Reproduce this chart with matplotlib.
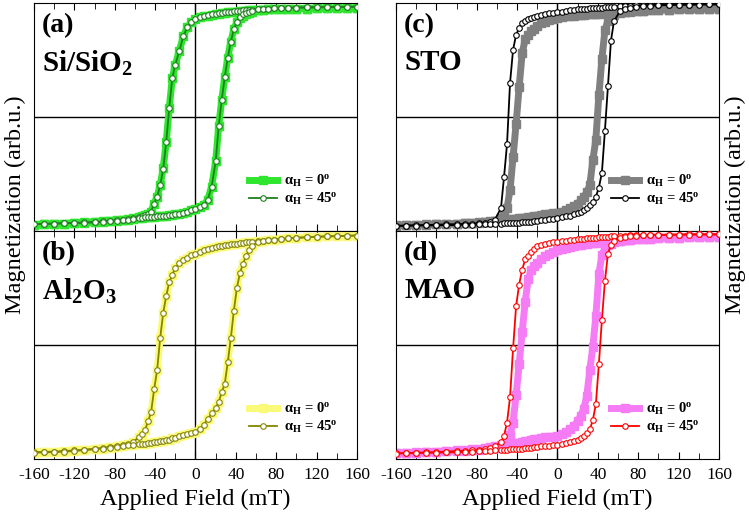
import matplotlib
matplotlib.use('Agg')
import matplotlib.pyplot as plt
from matplotlib.ticker import MultipleLocator

plt.rcParams['font.family'] = ['Liberation Serif', 'DejaVu Serif']
plt.rcParams['mathtext.fontset'] = 'custom'
plt.rcParams['mathtext.rm'] = 'Liberation Serif'
plt.rcParams['mathtext.it'] = 'Liberation Serif:italic'
plt.rcParams['mathtext.bf'] = 'Liberation Serif:bold'
plt.rcParams['axes.unicode_minus'] = False

# applied field grid (mT), shared by every branch
field = [-160, -150, -140, -130, -120, -110, -100, -92, -85, -78, -72, -67, -62,
         -56, -53, -50, -47, -44, -41, -38, -35, -32, -29, -26, -23, -20,
         -16, -12, -8, -4,
         0,
         4, 8, 12, 16,
         20, 23, 26, 29, 32, 35, 38, 41, 44, 47, 50, 53, 56,
         62, 67, 72, 78, 85, 92, 100, 110, 120, 130, 140, 150, 160]

# (a) Si/SiO2
a45_down = [-0.94, -0.938, -0.935, -0.932, -0.93, -0.925, -0.92, -0.915, -0.91, -0.905, -0.90, -0.895, -0.89,
            -0.88, -0.87, -0.86, -0.85, -0.83, -0.76, -0.70, -0.60, -0.46, -0.22, 0.08, 0.34, 0.46,
            0.58, 0.71, 0.79, 0.83,
            0.86,
            0.875, 0.885, 0.895, 0.90,
            0.905, 0.91, 0.915, 0.92, 0.922, 0.925, 0.928, 0.93, 0.932, 0.935, 0.937, 0.94, 0.94,
            0.945, 0.948, 0.95, 0.952, 0.955, 0.958, 0.96, 0.961, 0.962, 0.963, 0.965, 0.966, 0.967]
a45_up = [-0.94, -0.938, -0.935, -0.932, -0.93, -0.928, -0.925, -0.92, -0.915, -0.91, -0.905, -0.90, -0.895,
          -0.89, -0.885, -0.88, -0.878, -0.876, -0.874, -0.872, -0.87, -0.868, -0.866, -0.864, -0.86, -0.855,
          -0.85, -0.84, -0.83, -0.82,
          -0.81,
          -0.79, -0.77, -0.73, -0.61,
          -0.39, -0.08, 0.15, 0.35, 0.52, 0.66, 0.77, 0.835, 0.875, 0.90, 0.915, 0.925, 0.93,
          0.945, 0.948, 0.95, 0.952, 0.955, 0.958, 0.96, 0.961, 0.962, 0.963, 0.965, 0.966, 0.967]
a0_down = [-0.945, -0.942, -0.94, -0.935, -0.93, -0.925, -0.92, -0.915, -0.91, -0.905, -0.90, -0.895, -0.89,
           -0.88, -0.87, -0.86, -0.85, -0.83, -0.76, -0.70, -0.60, -0.45, -0.22, 0.08, 0.34, 0.46,
           0.58, 0.71, 0.79, 0.83,
           0.86,
           0.875, 0.885, 0.89, 0.895,
           0.90, 0.905, 0.91, 0.915, 0.918, 0.92, 0.922, 0.925, 0.928, 0.93, 0.932, 0.934, 0.936,
           0.94, 0.942, 0.945, 0.946, 0.948, 0.949, 0.95, 0.951, 0.952, 0.952, 0.953, 0.954, 0.955]
a0_up = [-0.945, -0.942, -0.94, -0.935, -0.93, -0.928, -0.925, -0.92, -0.915, -0.91, -0.905, -0.90, -0.895,
         -0.89, -0.885, -0.88, -0.878, -0.876, -0.874, -0.872, -0.87, -0.868, -0.866, -0.864, -0.86, -0.855,
         -0.85, -0.84, -0.83, -0.82,
         -0.81,
         -0.79, -0.77, -0.73, -0.61,
         -0.39, -0.08, 0.15, 0.35, 0.52, 0.66, 0.77, 0.83, 0.87, 0.89, 0.905, 0.915, 0.92,
         0.94, 0.942, 0.945, 0.946, 0.948, 0.949, 0.95, 0.951, 0.952, 0.952, 0.953, 0.954, 0.955]

# (b) Al2O3
b45_down = [-0.94, -0.938, -0.935, -0.93, -0.925, -0.918, -0.91, -0.902, -0.895, -0.885, -0.875, -0.865, -0.85,
            -0.81, -0.78, -0.745, -0.67, -0.59, -0.39, -0.22, 0.06, 0.28, 0.43, 0.55, 0.615, 0.675,
            0.72, 0.745, 0.765, 0.785,
            0.80,
            0.815, 0.83, 0.84, 0.85,
            0.86, 0.865, 0.87, 0.875, 0.878, 0.882, 0.886, 0.89, 0.893, 0.896, 0.899, 0.902, 0.905,
            0.91, 0.915, 0.92, 0.925, 0.93, 0.935, 0.94, 0.945, 0.95, 0.952, 0.955, 0.958, 0.96]
b45_up = [-0.945, -0.942, -0.94, -0.935, -0.93, -0.922, -0.915, -0.908, -0.90, -0.892, -0.885, -0.88, -0.875,
          -0.87, -0.868, -0.865, -0.862, -0.86, -0.855, -0.85, -0.845, -0.84, -0.835, -0.83, -0.82, -0.815,
          -0.80, -0.79, -0.78, -0.77,
          -0.76,
          -0.735, -0.70, -0.65, -0.60,
          -0.555, -0.50, -0.415, -0.34, -0.15, 0.06, 0.30, 0.50, 0.63, 0.71, 0.78, 0.83, 0.865,
          0.905, 0.912, 0.92, 0.925, 0.93, 0.935, 0.94, 0.945, 0.95, 0.952, 0.955, 0.958, 0.96]
b0_down = list(b45_down)
b0_up = list(b45_up)

# (c) STO
c45_down = [-0.955, -0.952, -0.95, -0.948, -0.945, -0.942, -0.94, -0.938, -0.935, -0.932, -0.93, -0.92, -0.90,
            -0.80, -0.53, -0.24, 0.30, 0.59, 0.72, 0.78, 0.825, 0.845, 0.86, 0.87, 0.878, 0.885,
            0.895, 0.90, 0.908, 0.914,
            0.92,
            0.925, 0.93, 0.935, 0.94,
            0.943, 0.946, 0.948, 0.95, 0.952, 0.954, 0.956, 0.958, 0.96, 0.962, 0.964, 0.966, 0.968,
            0.972, 0.974, 0.976, 0.978, 0.98, 0.982, 0.983, 0.984, 0.985, 0.986, 0.987, 0.988, 0.988]
c45_up = [-0.955, -0.954, -0.952, -0.951, -0.95, -0.949, -0.948, -0.946, -0.945, -0.943, -0.942, -0.941, -0.94,
          -0.935, -0.933, -0.93, -0.93, -0.93, -0.928, -0.926, -0.925, -0.923, -0.92, -0.918, -0.915, -0.91,
          -0.905, -0.90, -0.897, -0.892,
          -0.886,
          -0.88, -0.872, -0.865, -0.855,
          -0.84, -0.83, -0.815, -0.80, -0.775, -0.745, -0.70, -0.62, -0.49, -0.12, 0.27, 0.67, 0.84,
          0.93, 0.95, 0.96, 0.966, 0.97, 0.975, 0.978, 0.981, 0.983, 0.985, 0.986, 0.987, 0.988]
c0_down = [-0.95, -0.948, -0.945, -0.942, -0.94, -0.938, -0.935, -0.932, -0.93, -0.925, -0.92, -0.915, -0.91,
           -0.885, -0.86, -0.80, -0.64, -0.35, -0.06, 0.26, 0.56, 0.68, 0.72, 0.75, 0.775, 0.80,
           0.82, 0.835, 0.85, 0.86,
           0.87,
           0.876, 0.882, 0.886, 0.89,
           0.893, 0.895, 0.897, 0.899, 0.90, 0.902, 0.904, 0.906, 0.908, 0.91, 0.912, 0.914, 0.916,
           0.92, 0.923, 0.926, 0.929, 0.932, 0.935, 0.938, 0.941, 0.943, 0.945, 0.947, 0.949, 0.95]
c0_up = [-0.952, -0.95, -0.948, -0.945, -0.942, -0.94, -0.937, -0.934, -0.932, -0.928, -0.925, -0.92, -0.915,
         -0.908, -0.905, -0.90, -0.898, -0.895, -0.892, -0.89, -0.887, -0.883, -0.879, -0.875, -0.87, -0.865,
         -0.86, -0.855, -0.85, -0.845,
         -0.84,
         -0.83, -0.815, -0.80, -0.78,
         -0.76, -0.73, -0.70, -0.66, -0.60, -0.38, -0.20, 0.19, 0.51, 0.76, 0.845, 0.88, 0.895,
         0.91, 0.918, 0.925, 0.929, 0.932, 0.935, 0.938, 0.941, 0.943, 0.945, 0.947, 0.949, 0.95]

# (d) MAO
d45_down = [-0.95, -0.948, -0.945, -0.942, -0.94, -0.935, -0.93, -0.928, -0.925, -0.92, -0.915, -0.905, -0.89,
            -0.85, -0.80, -0.68, -0.46, -0.03, 0.34, 0.53, 0.66, 0.75, 0.78, 0.82, 0.845, 0.865,
            0.88, 0.89, 0.895, 0.90,
            0.906,
            0.91, 0.915, 0.92, 0.925,
            0.928, 0.93, 0.933, 0.936, 0.938, 0.94, 0.942, 0.944, 0.946, 0.948, 0.95, 0.952, 0.954,
            0.958, 0.96, 0.962, 0.964, 0.965, 0.966, 0.967, 0.968, 0.969, 0.97, 0.97, 0.97, 0.97]
d45_up = [-0.952, -0.95, -0.948, -0.946, -0.944, -0.942, -0.94, -0.938, -0.935, -0.932, -0.93, -0.928, -0.925,
          -0.922, -0.92, -0.918, -0.916, -0.914, -0.912, -0.91, -0.908, -0.906, -0.903, -0.90, -0.897, -0.894,
          -0.89, -0.888, -0.885, -0.881,
          -0.877,
          -0.87, -0.862, -0.853, -0.842,
          -0.83, -0.815, -0.795, -0.77, -0.74, -0.66, -0.52, -0.17, 0.22, 0.56, 0.80, 0.88, 0.915,
          0.94, 0.95, 0.955, 0.959, 0.962, 0.964, 0.965, 0.967, 0.968, 0.969, 0.97, 0.97, 0.97]
d0_down = [-0.948, -0.945, -0.942, -0.938, -0.935, -0.93, -0.925, -0.92, -0.915, -0.91, -0.905, -0.898, -0.89,
           -0.875, -0.865, -0.85, -0.79, -0.68, -0.44, -0.17, 0.11, 0.38, 0.58, 0.655, 0.69, 0.72,
           0.755, 0.78, 0.80, 0.82,
           0.833,
           0.845, 0.855, 0.863, 0.87,
           0.876, 0.88, 0.884, 0.888, 0.891, 0.894, 0.897, 0.90, 0.903, 0.906, 0.908, 0.91, 0.912,
           0.916, 0.919, 0.922, 0.926, 0.93, 0.933, 0.936, 0.939, 0.942, 0.944, 0.946, 0.948, 0.95]
d0_up = [-0.95, -0.948, -0.945, -0.942, -0.938, -0.934, -0.93, -0.926, -0.922, -0.917, -0.912, -0.906, -0.90,
         -0.89, -0.885, -0.877, -0.873, -0.868, -0.863, -0.858, -0.852, -0.846, -0.84, -0.834, -0.828, -0.822,
         -0.815, -0.81, -0.807, -0.803,
         -0.80,
         -0.785, -0.765, -0.74, -0.71,
         -0.67, -0.62, -0.56, -0.45, -0.22, -0.02, 0.25, 0.62, 0.79, 0.845, 0.875, 0.89, 0.90,
         0.912, 0.917, 0.922, 0.926, 0.93, 0.933, 0.936, 0.939, 0.942, 0.944, 0.946, 0.948, 0.95]

panels = [
    ('(a)', 'Si/SiO$_\\mathbf{2}$', a0_down, a0_up, a45_down, a45_up, '#2ee62e', '#1f7f1f'),
    ('(b)', 'Al$_\\mathbf{2}$O$_\\mathbf{3}$', b0_down, b0_up, b45_down, b45_up, '#fafa78', '#858500'),
    ('(c)', 'STO', c0_down, c0_up, c45_down, c45_up, '#808080', '#000000'),
    ('(d)', 'MAO', d0_down, d0_up, d45_down, d45_up, '#f57cf5', '#ff0000'),
]

fig = plt.figure(figsize=(7.49, 5.2), dpi=100)
boxes = [(0.0454, 0.5558), (0.0454, 0.1173), (0.5287, 0.5558), (0.5287, 0.1173)]

for (tag, name, m0d, m0u, m45d, m45u, c0, c45), (left, bottom) in zip(panels, boxes):
    ax = fig.add_axes([left, bottom, 0.4312, 0.4385])
    ax.axhline(0, color='black', lw=1, zorder=1)
    ax.axvline(0, color='black', lw=1, zorder=1)

    ax.plot(field, m0d, color=c0, lw=5, marker='s', ms=6, zorder=2,
            label='α$_\\mathbf{H}$ = 0$^\\mathbf{o}$')
    ax.plot(field, m0u, color=c0, lw=5, marker='s', ms=6, zorder=2)
    ax.plot(field, m45d, color=c45, lw=1.3, marker='o', ms=4, mfc='white',
            mec=c45, mew=0.8, zorder=3, label='α$_\\mathbf{H}$ = 45$^\\mathbf{o}$')
    ax.plot(field, m45u, color=c45, lw=1.3, marker='o', ms=4, mfc='white',
            mec=c45, mew=0.8, zorder=3)

    ax.set_xlim(-160, 160)
    ax.set_ylim(-1, 1)
    ax.set_yticks([])
    ax.xaxis.set_major_locator(MultipleLocator(40))
    ax.xaxis.set_minor_locator(MultipleLocator(20))
    ax.tick_params(axis='x', which='both', direction='in', top=True, bottom=True,
                   labelsize=12.5, pad=6)
    ax.tick_params(axis='x', which='major', length=5)
    ax.tick_params(axis='x', which='minor', length=4)
    if bottom > 0.5:
        ax.tick_params(axis='x', labelbottom=False)
    else:
        ax.set_xlabel('Applied Field (mT)', fontsize=17.5, labelpad=4)

    ax.text(0.025, 0.955, tag, transform=ax.transAxes, fontsize=20,
            fontweight='bold', va='top', ha='left')
    ax.text(0.025, 0.80, name, transform=ax.transAxes, fontsize=21,
            fontweight='bold', va='top', ha='left')

    ax.legend(loc='center left', bbox_to_anchor=(0.625, 0.18), frameon=False,
              handlelength=1.9, handletextpad=0.5, labelspacing=0.1,
              prop={'weight': 'bold', 'size': 10.5})

fig.text(0.02, 0.607, 'Magnetization (arb.u.)', rotation=90, fontsize=17.5,
         ha='center', va='center')
fig.text(0.982, 0.607, 'Magnetization (arb.u.)', rotation=90, fontsize=17.5,
         ha='center', va='center')

plt.savefig('out.png', dpi=100)
